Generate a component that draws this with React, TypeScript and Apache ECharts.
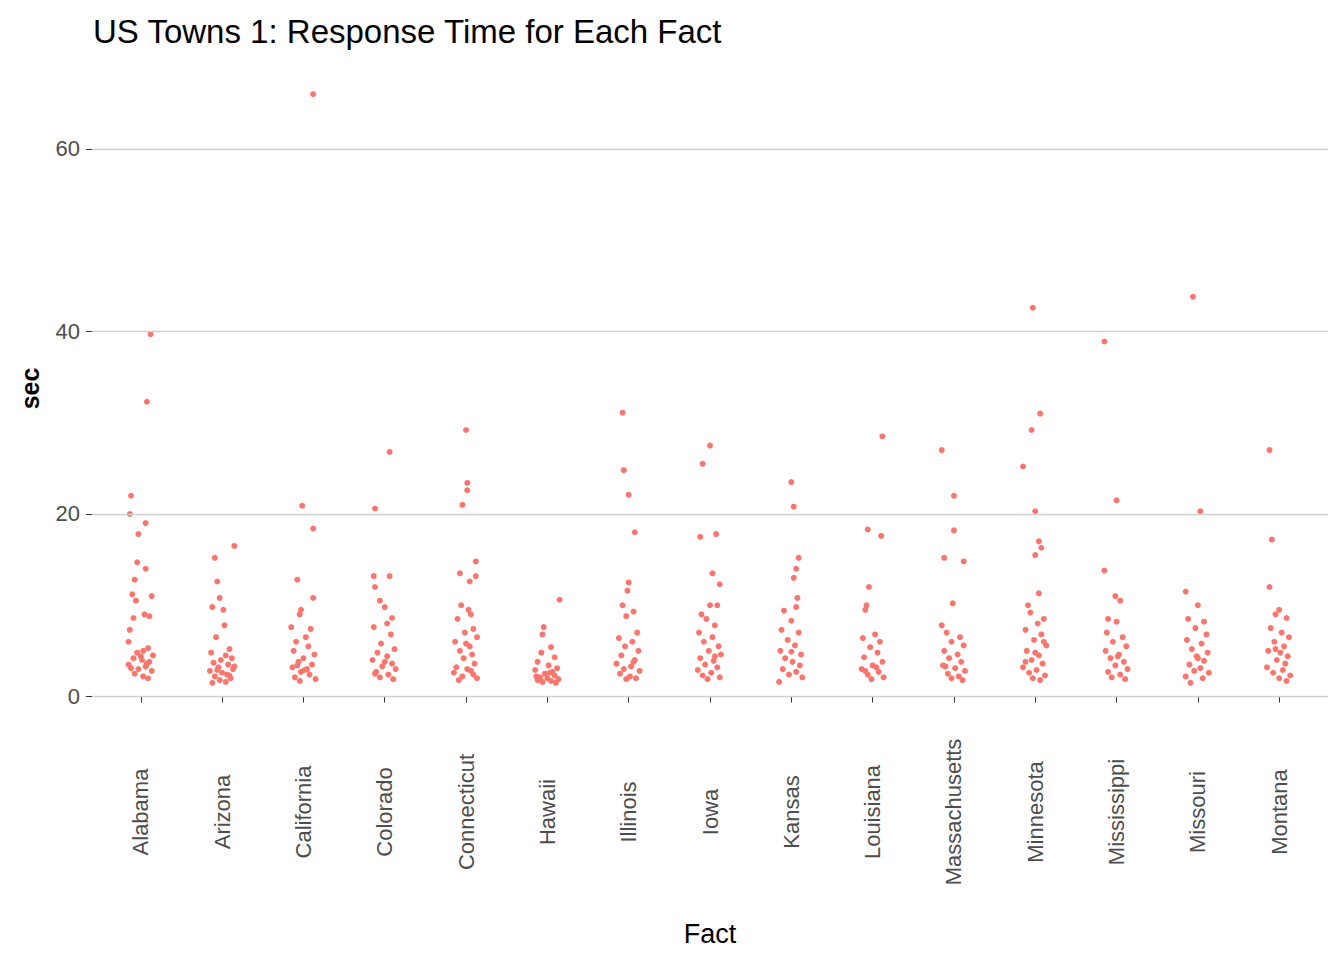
import { useEffect, useRef } from "react";
import * as echarts from "echarts";

const states = ["Alabama", "Arizona", "California", "Colorado", "Connecticut", "Hawaii", "Illinois", "Iowa", "Kansas", "Louisiana", "Massachusetts", "Minnesota", "Mississippi", "Missouri", "Montana"];

// [jitter offset, seconds] per state
const alabama = [[0.08, 39.7], [0.05, 32.3], [-0.08, 22], [-0.09, 20], [0.04, 19], [-0.02, 17.8], [-0.03, 14.7], [0.04, 14], [-0.05, 12.8], [-0.07, 11.2], [0.09, 11], [-0.04, 10.5], [0.03, 9], [0.07, 8.8], [-0.06, 8.6], [-0.09, 7.3], [-0.1, 6], [0.06, 5.3], [0.02, 5], [-0.03, 4.8], [0.1, 4.5], [-0.06, 4.2], [0.01, 4], [0.07, 3.8], [-0.1, 3.5], [0.04, 3.3], [-0.02, 3], [0.09, 2.8], [-0.05, 2.5], [0.02, 2.2], [0.06, 2], [-0.08, 3.1], [0.0, 4.4], [0.05, 3.6]];
const arizona = [[0.1, 16.5], [-0.06, 15.2], [-0.04, 12.6], [-0.02, 10.8], [-0.08, 9.8], [0.01, 9.5], [0.02, 7.8], [-0.05, 6.5], [0.06, 5.2], [-0.09, 4.8], [0.03, 4.5], [0.08, 4.2], [-0.01, 4], [-0.07, 3.7], [0.05, 3.5], [-0.03, 3.2], [0.09, 3], [-0.1, 2.8], [0.0, 2.6], [0.04, 2.4], [-0.06, 2.2], [0.07, 2], [-0.02, 1.8], [0.03, 1.6], [-0.08, 1.5], [0.1, 3.3], [-0.04, 2.9], [0.06, 2.3]];
const california = [[0.08, 66], [-0.01, 20.9], [0.08, 18.4], [-0.05, 12.8], [0.08, 10.8], [-0.02, 9.5], [-0.03, 9], [-0.1, 7.6], [0.06, 7.4], [0.02, 6.5], [-0.06, 6], [0.04, 5.5], [-0.08, 5], [0.09, 4.6], [0.0, 4.2], [-0.04, 3.8], [0.07, 3.5], [-0.09, 3.2], [0.03, 3], [-0.02, 2.7], [0.05, 2.4], [-0.07, 2.1], [0.1, 1.9], [-0.03, 1.7], [0.01, 2.9], [-0.05, 3.4]];
const colorado = [[-0.08, 20.6], [0.04, 26.8], [-0.09, 13.2], [0.04, 13.2], [-0.08, 12], [-0.04, 10.5], [0.0, 9.8], [0.06, 8.6], [0.02, 8], [-0.09, 7.6], [0.05, 6.8], [-0.03, 5.8], [0.08, 5.2], [-0.06, 4.8], [0.02, 4.4], [-0.1, 4], [0.06, 3.6], [-0.02, 3.3], [0.09, 3], [-0.07, 2.7], [0.03, 2.4], [-0.04, 2.1], [0.07, 1.9], [0.0, 3.8], [-0.08, 2.5]];
const connecticut = [[0.0, 29.2], [0.01, 23.4], [0.01, 22.6], [-0.03, 21], [0.08, 14.8], [-0.05, 13.5], [0.08, 13.2], [0.03, 12.6], [-0.04, 10], [0.02, 9.5], [0.04, 9], [-0.07, 8.5], [0.06, 7.4], [-0.01, 7], [0.09, 6.5], [-0.09, 6], [0.03, 5.5], [-0.05, 5], [0.05, 4.6], [-0.02, 4.2], [0.07, 3.6], [-0.08, 3.2], [0.01, 3], [-0.1, 2.6], [0.06, 2.4], [-0.03, 2.2], [0.09, 2], [-0.06, 1.8], [0.04, 2.8], [0.0, 5.8]];
const hawaii = [[0.1, 10.6], [-0.03, 7.6], [-0.04, 6.8], [0.03, 5.4], [-0.05, 4.8], [0.06, 4.3], [-0.08, 3.8], [0.01, 3.4], [0.08, 3.1], [-0.1, 2.9], [0.04, 2.7], [-0.02, 2.5], [0.06, 2.3], [-0.06, 2.1], [0.0, 2], [0.09, 1.9], [-0.08, 1.8], [0.03, 1.7], [-0.04, 1.6], [0.07, 1.5], [-0.09, 2.2], [0.02, 2.6]];
const illinois = [[-0.05, 31.1], [-0.04, 24.8], [0.0, 22.1], [0.05, 18], [0.0, 12.5], [-0.01, 11.6], [-0.05, 10], [0.04, 9.3], [-0.02, 8.8], [0.07, 7], [-0.08, 6.4], [0.03, 6], [-0.03, 5.5], [0.08, 5], [-0.06, 4.5], [0.05, 4], [-0.1, 3.6], [0.02, 3.3], [-0.04, 3], [0.09, 2.8], [-0.07, 2.5], [0.01, 2.2], [0.06, 2], [-0.02, 1.9], [0.04, 3.8]];
const iowa = [[-0.06, 25.5], [0.0, 27.5], [-0.08, 17.5], [0.05, 17.8], [0.02, 13.5], [0.08, 12.3], [0.0, 10], [-0.07, 9], [0.06, 10], [-0.03, 8.5], [0.04, 7.8], [-0.09, 7], [0.02, 6.5], [-0.05, 6], [0.07, 5.5], [-0.01, 5], [0.09, 4.6], [-0.08, 4.2], [0.03, 3.9], [-0.04, 3.5], [0.06, 3.2], [-0.1, 2.9], [0.01, 2.6], [-0.06, 2.3], [0.08, 2.1], [-0.02, 1.9], [0.04, 4.4]];
const kansas = [[0.0, 23.5], [0.02, 20.8], [0.06, 15.2], [0.04, 14], [0.02, 13], [0.05, 10.8], [0.04, 9.8], [-0.06, 9.4], [0.0, 8.3], [-0.08, 7.3], [0.06, 7], [-0.03, 6.2], [0.03, 5.6], [-0.09, 5], [0.08, 4.6], [-0.05, 4.2], [0.01, 3.8], [0.07, 3.4], [-0.07, 3], [0.04, 2.7], [-0.02, 2.4], [0.09, 2.1], [-0.1, 1.6], [0.0, 4.9]];
const louisiana = [[0.08, 28.5], [-0.04, 18.3], [0.07, 17.6], [-0.03, 12], [-0.05, 10], [-0.06, 9.5], [0.02, 6.8], [-0.08, 6.4], [0.06, 6], [-0.02, 5.4], [0.04, 4.8], [-0.07, 4.3], [0.08, 3.8], [0.0, 3.4], [-0.09, 3], [0.05, 2.7], [-0.04, 2.4], [0.09, 2.1], [-0.01, 1.9], [0.03, 3.2], [-0.06, 2.8]];
const massachusetts = [[-0.1, 27], [0.0, 22], [-0.08, 15.2], [0.08, 14.8], [0.0, 18.2], [-0.01, 10.2], [-0.1, 7.8], [-0.06, 7], [0.05, 6.5], [-0.02, 6], [0.08, 5.6], [-0.08, 5], [0.03, 4.6], [-0.04, 4.2], [0.06, 3.8], [-0.09, 3.4], [0.01, 3.1], [0.09, 2.8], [-0.05, 2.5], [0.04, 2.2], [-0.02, 2], [0.07, 1.8], [-0.07, 3.3]];
const minnesota = [[-0.02, 42.6], [0.04, 31], [-0.03, 29.2], [-0.1, 25.2], [0.0, 20.3], [0.03, 17], [0.05, 16.3], [0.0, 15.5], [0.03, 11.3], [-0.06, 10], [0.07, 8.5], [-0.04, 9.2], [0.02, 8], [-0.08, 7.3], [0.05, 6.8], [-0.01, 6.2], [0.09, 5.6], [-0.07, 5], [0.03, 4.5], [-0.03, 4], [0.06, 3.6], [-0.1, 3.2], [0.01, 2.9], [-0.05, 2.6], [0.08, 2.3], [-0.02, 2], [0.04, 1.8], [-0.08, 3.8], [0.0, 4.8], [0.07, 6]];
const mississippi = [[-0.1, 38.9], [0.0, 21.5], [-0.1, 13.8], [-0.01, 11], [0.03, 10.5], [-0.07, 8.5], [0.0, 8.2], [-0.08, 7], [0.05, 6.5], [-0.03, 6], [0.08, 5.5], [-0.09, 5], [0.02, 4.6], [-0.05, 4.2], [0.06, 3.8], [-0.01, 3.4], [0.09, 3], [-0.07, 2.7], [0.03, 2.4], [-0.04, 2.1], [0.07, 1.9], [0.01, 4.4]];
const missouri = [[-0.04, 43.8], [0.02, 20.3], [-0.1, 11.5], [0.0, 10], [-0.08, 8.5], [0.05, 8.2], [-0.02, 7.5], [0.07, 6.8], [-0.09, 6.2], [0.03, 5.8], [-0.05, 5.2], [0.08, 4.8], [-0.01, 4.4], [0.05, 3.9], [-0.07, 3.5], [0.02, 3.1], [-0.03, 2.8], [0.09, 2.6], [-0.1, 2.2], [0.04, 2], [-0.06, 1.5], [0.0, 4.2]];
const montana = [[-0.08, 27], [-0.06, 17.2], [-0.08, 12], [0.0, 9.5], [-0.03, 9], [0.06, 8.6], [-0.07, 7.5], [0.02, 7], [0.08, 6.5], [-0.04, 6], [0.04, 5.5], [-0.09, 5], [0.01, 4.8], [0.07, 4.4], [-0.02, 4], [0.05, 3.6], [-0.1, 3.2], [0.03, 2.9], [-0.05, 2.6], [0.09, 2.3], [0.0, 2], [0.06, 1.7], [-0.03, 5.2]];

const byState = [alabama, arizona, california, colorado, connecticut, hawaii, illinois, iowa, kansas, louisiana, massachusetts, minnesota, mississippi, missouri, montana];
const yTicks = [0, 20, 40, 60];

export default function App() {
  const ref = useRef<HTMLDivElement | null>(null);

  useEffect(() => {
    if (!ref.current) return undefined;
    const chart = echarts.init(ref.current, undefined, { renderer: "svg" });
    const points: number[][] = [];
    byState.forEach((list, i) => list.forEach(([dx, v]) => points.push([i + 1 + dx * 1.5, v])));
    const positions = states.map((_, i) => i + 1);

    chart.setOption({
      animation: false,
      textStyle: { fontFamily: "Arial, 'Liberation Sans', sans-serif" },
      title: {
        text: "US Towns 1: Response Time for Each Fact",
        left: 80,
        top: 2,
        textStyle: { fontSize: 33, fontWeight: "normal", color: "#000" },
      },
      grid: { left: 84, right: 8, top: 57, bottom: 229 },
      xAxis: {
        type: "value",
        min: 0.4,
        max: 15.6,
        name: "Fact",
        nameLocation: "middle",
        nameGap: 208,
        nameTextStyle: { fontSize: 27, color: "#000" },
        axisLine: { show: false },
        splitLine: { show: false },
        axisTick: { show: true, customValues: positions, length: 6, lineStyle: { color: "#333" } },
        axisLabel: {
          customValues: positions,
          rotate: 90,
          align: "center",
          fontSize: 22,
          color: "#4d4d4d",
          margin: 100,
          formatter: (v: number) => states[Math.round(v) - 1] ?? "",
        },
      },
      yAxis: {
        type: "value",
        min: -1.7,
        max: 69.2,
        name: "sec",
        nameLocation: "middle",
        nameGap: 50,
        nameTextStyle: { fontSize: 25, fontWeight: "bold", color: "#000" },
        axisLine: { show: false },
        axisTick: { show: true, customValues: yTicks, length: 6, lineStyle: { color: "#333" } },
        axisLabel: { customValues: yTicks, fontSize: 22, color: "#4d4d4d", margin: 12 },
        splitLine: { show: false },
      },
      series: [
        {
          type: "line",
          data: [],
          markLine: {
            silent: true,
            symbol: "none",
            label: { show: false },
            lineStyle: { color: "#d0d0d0", type: "solid", width: 1.3 },
            data: yTicks.map((y) => ({ yAxis: y })),
          },
        },
        {
          type: "scatter",
          data: points,
          symbolSize: 6,
          itemStyle: { color: "#F8766D", opacity: 1 },
        },
      ],
    });
    return () => chart.dispose();
  }, []);

  return <div ref={ref} style={{ width: 1328, height: 944 }} />;
}
